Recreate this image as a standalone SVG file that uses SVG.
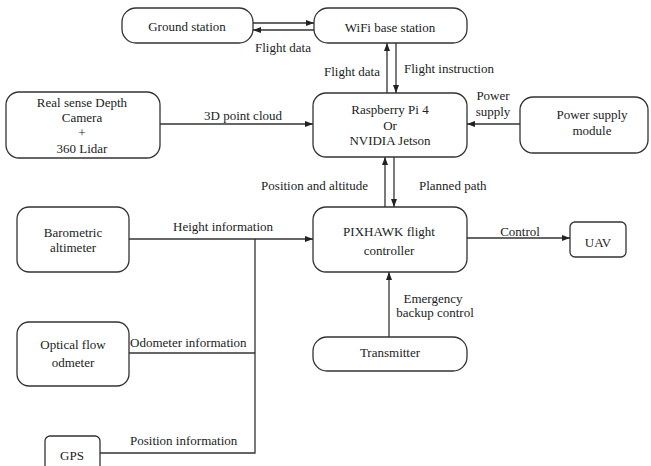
<svg xmlns="http://www.w3.org/2000/svg" width="651" height="466" viewBox="0 0 651 466">
<style>
.box{fill:#fff;stroke:#333;stroke-width:1.3}
text{font-family:"Liberation Serif","Times New Roman",serif;font-size:13px;fill:#222}
.c{text-anchor:middle}
.e{text-anchor:end}
.ln{stroke:#333;stroke-width:1.3;fill:none}
</style>
<defs>
<marker id="ah" markerUnits="userSpaceOnUse" markerWidth="9" markerHeight="7" refX="8" refY="3" orient="auto">
<path d="M0,0 L8,3 L0,6 z" fill="#222"/>
</marker>
</defs>
<rect width="651" height="466" fill="#fff"/>
<g id="ground"><rect class="box" x="122" y="8" width="131" height="35" rx="14"/><text class="c" x="187" y="30.5">Ground station</text></g>
<g id="wifi"><rect class="box" x="314" y="8" width="153" height="35" rx="14"/><text class="c" x="390" y="32">WiFi base station</text></g>
<g id="realsense"><rect class="box" x="6" y="92" width="154" height="66" rx="13"/>
<text class="c" x="82" y="106.5">Real sense Depth</text><text class="c" x="82" y="121.5">Camera</text><text class="c" x="82" y="136.5">+</text><text class="c" x="82" y="152.5">360 Lidar</text></g>
<g id="raspberry"><rect class="box" x="313" y="93" width="154" height="64" rx="13"/>
<text class="c" x="390" y="113.5">Raspberry Pi 4</text><text class="c" x="390" y="129.5">Or</text><text class="c" x="390" y="144.5">NVIDIA Jetson</text></g>
<g id="power"><rect class="box" x="520" y="97" width="128" height="56" rx="13"/>
<text class="c" x="592" y="118.5">Power supply</text><text class="c" x="592" y="134.5">module</text></g>
<g id="barometric"><rect class="box" x="17" y="207" width="112" height="65" rx="12"/>
<text class="c" x="73" y="236.5">Barometric</text><text class="c" x="73" y="251.5">altimeter</text></g>
<g id="pixhawk"><rect class="box" x="313" y="207" width="154" height="65" rx="13"/>
<text class="c" x="389" y="235.5">PIXHAWK flight</text><text class="c" x="389" y="254.5">controller</text></g>
<g id="uav"><rect class="box" x="570" y="222" width="56" height="35" rx="5"/><text class="c" x="598" y="246.5">UAV</text></g>
<g id="optical"><rect class="box" x="17" y="322" width="112" height="64" rx="12"/>
<text class="c" x="73" y="348.5">Optical flow</text><text class="c" x="73" y="366.5">odmeter</text></g>
<g id="transmitter"><rect class="box" x="313" y="337" width="154" height="34" rx="14"/><text class="c" x="390" y="356.5">Transmitter</text></g>
<g id="gps"><rect class="box" x="45" y="436" width="55" height="42" rx="5"/><text class="c" x="72" y="459.5">GPS</text></g>
<g id="connectors">
<line class="ln" x1="253" y1="23" x2="314" y2="23" marker-end="url(#ah)"/>
<line class="ln" x1="314" y1="30" x2="253" y2="30" marker-end="url(#ah)"/>
<line class="ln" x1="387" y1="93" x2="387" y2="43" marker-end="url(#ah)"/>
<line class="ln" x1="396" y1="43" x2="396" y2="93" marker-end="url(#ah)"/>
<line class="ln" x1="160" y1="124" x2="313" y2="124" marker-end="url(#ah)"/>
<line class="ln" x1="520" y1="124" x2="467" y2="124" marker-end="url(#ah)"/>
<line class="ln" x1="385" y1="207" x2="385" y2="157" marker-end="url(#ah)"/>
<line class="ln" x1="394" y1="157" x2="394" y2="207" marker-end="url(#ah)"/>
<line class="ln" x1="129" y1="239" x2="313" y2="239" marker-end="url(#ah)"/>
<polyline class="ln" points="255,239 255,453 100,453"/>
<line class="ln" x1="129" y1="353" x2="255" y2="353"/>
<line class="ln" x1="467" y1="238" x2="570" y2="238" marker-end="url(#ah)"/>
<line class="ln" x1="389" y1="337" x2="389" y2="272" marker-end="url(#ah)"/>
<text x="255" y="52">Flight data</text>
<text class="c" x="352" y="76">Flight data</text>
<text x="404" y="73">Flight instruction</text>
<text class="c" x="243" y="120">3D point cloud</text>
<text class="c" x="493" y="100">Power</text>
<text class="c" x="493" y="116">supply</text>
<text class="e" x="368" y="190">Position and altitude</text>
<text x="419" y="190">Planned path</text>
<text x="173" y="231">Height information</text>
<text class="c" x="520" y="236">Control</text>
<text class="c" x="433" y="303">Emergency</text>
<text class="c" x="435" y="317">backup control</text>
<text x="130" y="347">Odometer information</text>
<text x="130" y="445">Position information</text>
</g>
</svg>
